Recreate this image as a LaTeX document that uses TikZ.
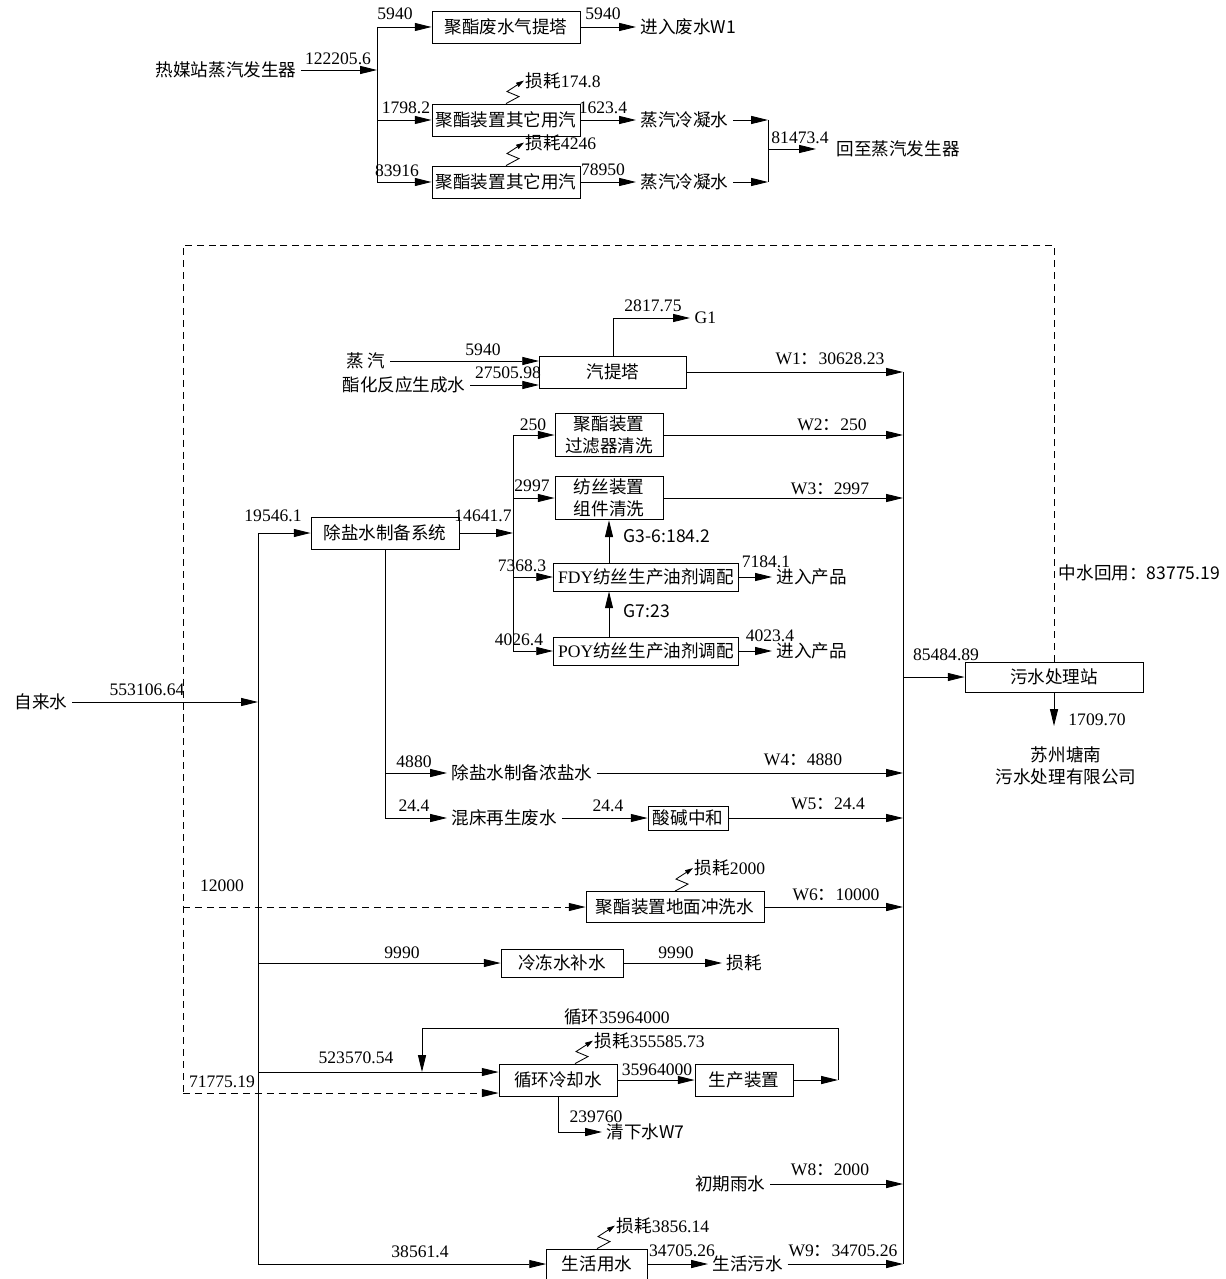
\documentclass[tikz,border=0pt]{standalone}
\usepackage{fontspec}
\setmainfont{Liberation Serif}
\newfontfamily\cjk{Noto Sans CJK SC}
\usetikzlibrary{arrows.meta}
\newcommand{\zh}[1]{{\cjk #1}}
\newcommand{\fs}{\fontsize{12.5}{15.5}\selectfont}

\begin{document}
\begin{tikzpicture}[x=0.025cm,y=-0.025cm,font=\fs,line width=0.6pt,>={Triangle[length=4.2mm,width=2mm]},
box/.style={draw,align=center,minimum height=0.8cm,inner sep=2pt},txt/.style={inner sep=3pt},num/.style={inner sep=1pt},
loss/.style={->,>={Triangle[length=2mm,width=1.2mm]}},flow/.style={dash pattern=on 5pt off 3.5pt}]
\useasboundingbox (0,0) rectangle (1225,1279);
% steam balance
\node[txt](src) at (226,70){\zh{热媒站蒸汽发生器}};
\coordinate(sb) at (377,70);\coordinate(st) at (377,27);\coordinate(sbot) at (377,182);
\node[box,minimum width=3.7cm](strip0) at (506,27){\zh{聚酯废水气提塔}};
\node[box,minimum width=3.7cm](use1) at (506,120){\zh{聚酯装置其它用汽}};
\node[box,minimum width=3.7cm](use2) at (506,182){\zh{聚酯装置其它用汽}};
\node[txt,anchor=west](tow1) at (636,27){\zh{进入废水W1}};
\node[txt,anchor=west](cond1) at (636,120){\zh{蒸汽冷凝水}};
\node[txt,anchor=west](cond2) at (636,182){\zh{蒸汽冷凝水}};
\coordinate(cj1) at (768,120);\coordinate(cj2) at (768,182);\coordinate(cj) at (768,149);
\node[txt,anchor=west](back) at (832,149){\zh{回至蒸汽发生器}};
\draw[->](src)--(sb);\draw(st)--(sbot);
\draw[->](st)--(strip0);\draw[->](use1 -| st)--(use1);\draw[->](sbot)--(use2);
\draw[->](strip0)--(tow1);\draw[->](use1)--(cond1);\draw[->](use2)--(cond2);
\draw[->](cond1)--(cj1);\draw[->](cond2)--(cj2);\draw(cj1)--(cj2);
\draw[->](cj)--([xshift=-4mm]back.west);
\draw[loss](use1.north)--++(13,-7)--++(-12,-5)--++(17,-11)node[num,anchor=west](ls1){\zh{损耗}174.8};
\draw[loss](use2.north)--++(13,-7)--++(-12,-5)--++(17,-11)node[num,anchor=west](ls2){\zh{损耗}4246};
\node[num](q1) at (338,59){122205.6};\node[num](q2) at (395,14){5940};\node[num](q3) at (603,14){5940};
\node[num](q4) at (406,108){1798.2};\node[num](q5) at (397,171){83916};\node[num](q6) at (603,108){1623.4};
\node[num](q7) at (603,170){78950};\node[num](q8) at (800,138){81473.4};
% water balance
\node[txt](tap) at (41,702){\zh{自来水}};
\coordinate(mt) at (258,533);\coordinate(mi) at (258,702);\coordinate(mb) at (258,1264);
\coordinate(ct) at (903,372);\coordinate(cb) at (903,1264);
\draw(mt)--(mb);\draw(ct)--(cb);\draw[->](tap)--(mi);
\node[box,minimum width=3.675cm](strip) at (613,372){\zh{汽提塔}};
\node[txt](steam) at (366,361){\zh{蒸~汽}};
\node[txt](ester) at (404,385){\zh{酯化反应生成水}};
\node[txt,anchor=west](g1) at (690,318){G1};
\draw[->](steam)--(steam -| strip.west);\draw[->](ester)--(ester -| strip.west);
\draw[->](strip)|-(g1);\draw[->](strip)--(ct);
\node[box,minimum width=3.7cm](desalt) at (385,533){\zh{除盐水制备系统}};
\coordinate(ds) at (513,533);\coordinate(dt) at (513,435);\coordinate(dbot) at (513,651);
\draw[->](mt)--(desalt);\draw[->](desalt)--(ds);\draw(dt)--(dbot);
\node[box,minimum width=2.7cm,minimum height=1.075cm](filt) at (609,435){\zh{聚酯装置}\\\zh{过滤器清洗}};
\node[box,minimum width=2.7cm,minimum height=1.075cm](spin) at (609,498){\zh{纺丝装置}\\\zh{组件清洗}};
\node[box,minimum width=4.625cm,minimum height=0.7cm](fdy) at (646,577){FDY\zh{纺丝生产油剂调配}};
\node[box,minimum width=4.625cm,minimum height=0.7cm](poy) at (646,651){POY\zh{纺丝生产油剂调配}};
\node[txt,anchor=west](prod1) at (772,577){\zh{进入产品}};
\node[txt,anchor=west](prod2) at (772,651){\zh{进入产品}};
\draw[->](dt)--(filt);\draw[->](spin -| dt)--(spin);\draw[->](fdy -| dt)--(fdy);\draw[->](dbot)--(poy);
\draw[->](fdy.north -| spin)--(spin.south);\draw[->](poy.north -| spin)--(fdy.south -| spin);
\draw[->](fdy)--(prod1);\draw[->](poy)--(prod2);
\draw[->](filt)--(filt -| ct);\draw[->](spin)--(spin -| ct);
\node[num,anchor=west](g36) at (622,536){\zh{G3-6:184.2}};
\node[num,anchor=west](g7) at (622,611){\zh{G7:23}};
\coordinate(dd1) at (385,773);\coordinate(dd2) at (385,818);
\node[txt,anchor=west](brine) at (447,773){\zh{除盐水制备浓盐水}};
\node[txt,anchor=west](regen) at (447,818){\zh{混床再生废水}};
\node[box,minimum width=2cm,minimum height=0.6cm](neut) at (688,818){\zh{酸碱中和}};
\draw(desalt)--(dd2);\draw[->](dd1)--(brine);\draw[->](dd2)--(regen);
\draw[->](brine)--(brine -| ct);\draw[->](regen)--(neut);\draw[->](neut)--(neut -| ct);
\node[box,minimum width=4.45cm,minimum height=0.75cm](wwtp) at (1054,677){\zh{污水处理站}};
\coordinate(eff) at (1054,726);
\node[txt,align=center](tangnan) at (1066,766){\zh{苏州塘南}\\\zh{污水处理有限公司}};
\node[num,anchor=west](reuse) at (1057,573){\zh{中水回用：83775.19}};
\draw[->](wwtp -| ct)--(wwtp);\draw[->](wwtp)--(eff);
\coordinate(fr1) at (1054,245);\coordinate(fr2) at (183,245);\coordinate(fl1) at (183,907);\coordinate(fl2) at (183,1093);
\draw[flow](wwtp)--(fr1)--(fr2)--(fl2);
\node[box,minimum width=4.45cm,minimum height=0.775cm](floor) at (675,907){\zh{聚酯装置地面冲洗水}};
\draw[->,flow](fl1)--(floor);\draw[->](floor)--(floor -| ct);
\draw[loss](floor.north)--++(13,-7)--++(-12,-5)--++(17,-11)node[num,anchor=west](ls3){\zh{损耗}2000};
\coordinate(mc) at (258,963);
\node[box,minimum width=3.05cm,minimum height=0.7cm](chill) at (562,963){\zh{冷冻水补水}};
\node[txt,anchor=west](chloss) at (722,963){\zh{损耗}};
\draw[->](mc)--(chill);\draw[->](chill)--(chloss);
\node[box,minimum width=2.95cm](cool) at (558,1080){\zh{循环冷却水}};
\node[box,minimum width=2.45cm](unit) at (744,1080){\zh{生产装置}};
\coordinate(mw) at (258,1072);\coordinate(lp1) at (838,1080);\coordinate(lp2) at (422,1028);
\draw[->](mw)--(mw -| cool.west);\draw[->,flow](fl2)--(fl2 -| cool.west);
\draw[->](cool)--(unit);\draw[->](unit)--(lp1);\draw[->](lp1)|-(lp2)--(lp2 |- mw);
\node[txt,anchor=west](w7) at (602,1132){\zh{清下水W7}};
\draw[->](cool)|-(w7);
\draw[loss]([xshift=0.425cm]cool.north)--++(13,-7)--++(-12,-5)--++(17,-11)node[num,anchor=west](ls4){\zh{损耗}355585.73};
\node[txt,anchor=east](rain) at (770,1184){\zh{初期雨水}};
\draw[->](rain)--(rain -| ct);
\node[box,minimum width=2.525cm,minimum height=0.75cm](dom) at (597,1264){\zh{生活用水}};
\node[txt,anchor=west](sew) at (708,1264){\zh{生活污水}};
\draw[->](mb)--(dom);\draw[->](dom)--(sew);\draw[->](sew)--(cb);
\draw[loss](dom.north)--++(13,-7)--++(-12,-5)--++(17,-11)node[num,anchor=west](ls5){\zh{损耗}3856.14};
% flow values
\node[num](v1) at (483,350){5940};\node[num](v2) at (508,373){27505.98};\node[num](v3) at (653,306){2817.75};
\node[num](v4) at (830,359){W1\zh{：}30628.23};\node[num](v5) at (533,425){250};\node[num](v6) at (832,425){W2\zh{：}250};
\node[num](v7) at (532,486){2997};\node[num](v8) at (830,489){W3\zh{：}2997};\node[num](v9) at (273,516){19546.1};
\node[num](v10) at (483,516){14641.7};\node[num](v11) at (522,566){7368.3};\node[num](v12) at (766,562){7184.1};
\node[num](v13) at (519,640){4026.4};\node[num](v14) at (770,636){4023.4};\node[num](v15) at (147,690){553106.64};
\node[num](v16) at (946,655){85484.89};\node[num](v17) at (1097,720){1709.70};\node[num](v18) at (414,762){4880};
\node[num](v19) at (803,760){W4\zh{：}4880};\node[num](v20) at (414,806){24.4};\node[num](v21) at (608,806){24.4};
\node[num](v22) at (828,804){W5\zh{：}24.4};\node[num](v23) at (222,886){12000};\node[num](v24) at (836,895){W6\zh{：}10000};
\node[num](v25) at (402,953){9990};\node[num](v26) at (676,953){9990};\node[num](v27) at (617,1017){\zh{循环}35964000};
\node[num](v28) at (356,1058){523570.54};\node[num](v29) at (222,1082){71775.19};\node[num](v30) at (657,1070){35964000};
\node[num](v31) at (596,1117){239760};\node[num](v32) at (830,1170){W8\zh{：}2000};\node[num](v33) at (420,1252){38561.4};
\node[num](v34) at (682,1251){34705.26};\node[num](v35) at (843,1251){W9\zh{：}34705.26};
\end{tikzpicture}
\end{document}
